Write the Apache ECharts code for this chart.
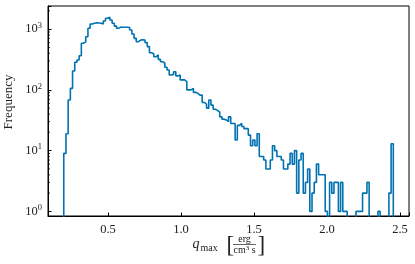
<!DOCTYPE html>
<html><head><meta charset="utf-8">
<script src="https://cdn.jsdelivr.net/npm/echarts@6/dist/echarts.min.js"></script>
<style>html,body{margin:0;padding:0;background:#fff}#c{width:415px;height:264px}</style>
</head><body><div id="c"></div>
<script>
// ---- data ----
const binStart = 0.197;      // left edge of first bin
const binWidth = 0.01505;    // bin width (150 bins)
const counts = [
  9, 19, 68, 106, 204, 285, 310, 365, 585, 615,
  750, 1030, 1210, 1245, 1270, 1260, 1245, 1210, 1360, 1510,
  1565, 1410, 1245, 1120, 1030, 1080, 1070, 1070, 1070, 1060,
  967, 830, 705, 620, 660, 670, 660, 600, 515, 408,
  390, 350, 375, 318, 291, 274, 235, 212, 176, 180,
  199, 170, 176, 146, 146, 136, 100, 100, 106, 91,
  88, 82, 82, 62, 58, 50, 68, 56, 48, 46,
  43, 36, 33, 32, 30, 36, 28, 28, 15, 26,
  28, 25, 23, 23, 18, 12, 15, 12, 19, 8,
  8, 7, 5, 5, 7, 12, 10, 8, 8, 7,
  5, 5, 6, 9, 6, 10, 2, 7, 9, 2,
  3, 5, 1, 2, 3, 6, 4, 4, 4, 1,
  0, 3, 2, 3, 3, 1, 3, 1, 1, 0,
  0, 0, 0, 1, 1, 1, 2, 2, 3, 0,
  0, 0, 0, 1, 0, 0, 0, 0, 2, 13
];
const xTickValues = [0.5, 1.0, 1.5, 2.0, 2.5];
const yMinorValues = [2,3,4,5,6,7,8,9,20,30,40,50,60,70,80,90,200,300,400,500,600,700,800,900,2000];
const xRange = [0.089, 2.562];
const yRange = [0.84, 2400];

// ---- build step outline ----
const FLOOR = 1e-3; // empty bins fall below the axis (clipped)
const pts = [[binStart, FLOOR]];
counts.forEach((c, i) => {
  const x0 = binStart + i * binWidth, x1 = x0 + binWidth;
  const v = c > 0 ? c : FLOOR;
  pts.push([x0, v], [x1, v]);
});
pts.push([binStart + counts.length * binWidth, FLOOR]);

const FONT = 'Liberation Serif';
const TXT = '#222';
const chart = echarts.init(document.getElementById('c'), null, {renderer: 'canvas'});
chart.setOption({
  animation: false,
  backgroundColor: '#fff',
  grid: {left: 48, right: 6, top: 6, bottom: 48, show: true, borderColor: '#000', borderWidth: 1},
  xAxis: {
    type: 'value', min: xRange[0], max: xRange[1],
    axisLine: {show: true, lineStyle: {color: '#000', width: 1}},
    axisTick: {show: true, inside: true, length: 3.5, lineStyle: {color: '#000', width: 1}},
    axisLabel: {
      margin: 7, color: TXT, fontFamily: FONT, fontSize: 12.5,
      showMinLabel: true, showMaxLabel: true,
      formatter: v => xTickValues.some(t => Math.abs(t - v) < 1e-6) ? v.toFixed(1) : ''
    },
    splitLine: {show: false}
  },
  yAxis: {
    type: 'log', logBase: 10, min: yRange[0], max: yRange[1],
    axisLine: {show: true, lineStyle: {color: '#000', width: 1}},
    axisTick: {show: true, inside: true, length: 3.5, lineStyle: {color: '#000', width: 1}},
    axisLabel: {
      margin: 6, color: TXT, fontFamily: FONT,
      showMinLabel: true, showMaxLabel: true,
      formatter: v => {
        const e = Math.log10(v);
        if (Math.abs(e - Math.round(e)) > 1e-6) return '';
        return '{b|10}{s|' + Math.round(e) + '}';
      },
      rich: {
        b: {fontFamily: FONT, fontSize: 12.5, color: TXT},
        s: {fontFamily: FONT, fontSize: 8.5, color: TXT, verticalAlign: 'bottom', padding: [0, 0, 7, 0]}
      }
    },
    splitLine: {show: false}
  },
  series: [
    {
      type: 'line', data: pts, showSymbol: false, clip: true,
      lineStyle: {color: '#0072b2', width: 1.6}, itemStyle: {color: '#0072b2'},
      silent: true, z: 3
    },
    {
      type: 'custom', silent: true, clip: false, z: 4,
      data: yMinorValues.map(v => [xRange[0], v]),
      renderItem: (params, api) => {
        const p = api.coord([api.value(0), api.value(1)]);
        return {type: 'line', shape: {x1: p[0], y1: p[1], x2: p[0] + 2, y2: p[1]},
                style: {stroke: '#000', lineWidth: 0.8}};
      }
    }
  ],
  graphic: [
    {type: 'text', rotation: Math.PI / 2, x: 9, y: 102,
     style: {text: 'Frequency', fontFamily: FONT, fontSize: 13, fill: TXT, align: 'center', verticalAlign: 'middle'}},
    {type: 'text', x: 192.5, y: 244.5,
     style: {text: 'q', fontFamily: FONT, fontStyle: 'italic', fontSize: 14, fill: TXT, verticalAlign: 'middle'}},
    {type: 'text', x: 200.5, y: 248,
     style: {text: 'max', fontFamily: FONT, fontSize: 10, fill: TXT, verticalAlign: 'middle'}},
    {type: 'text', x: 226.5, y: 246,
     style: {text: '[', fontFamily: FONT, fontSize: 23, fill: TXT, verticalAlign: 'middle'}},
    {type: 'text', x: 244.5, y: 239,
     style: {text: 'erg', fontFamily: FONT, fontSize: 10, fill: TXT, align: 'center', verticalAlign: 'middle'}},
    {type: 'line', shape: {x1: 233, y1: 244.5, x2: 256, y2: 244.5}, style: {stroke: TXT, lineWidth: 0.7}},
    {type: 'text', x: 244.5, y: 250.5,
     style: {text: '{a|cm}{b|3}{a| s}', align: 'center', verticalAlign: 'middle',
             rich: {a: {fontFamily: FONT, fontSize: 10, fill: TXT},
                    b: {fontFamily: FONT, fontSize: 7, fill: TXT, verticalAlign: 'bottom', padding: [0, 0, 4, 0]}}}},
    {type: 'text', x: 257.5, y: 246,
     style: {text: ']', fontFamily: FONT, fontSize: 23, fill: TXT, verticalAlign: 'middle'}}
  ]
});
</script>
</body></html>
